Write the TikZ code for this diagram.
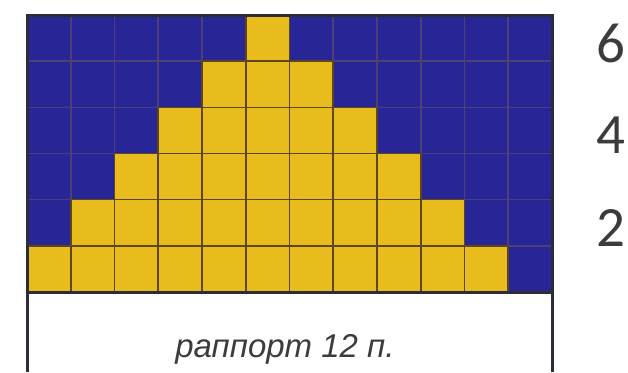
\documentclass[tikz,border=0pt]{standalone}
\usepackage{fontspec}
\setmainfont{Liberation Sans}
\newfontfamily\numfont{Carlito}
\definecolor{gblue}{RGB}{40,38,150}
\definecolor{gyellow}{RGB}{232,188,28}
\definecolor{gline}{RGB}{78,64,118}
\definecolor{yline}{RGB}{92,70,30}
\definecolor{gframe}{RGB}{45,45,55}
\definecolor{txt}{RGB}{60,60,60}
\tikzset{
  gridline/.style={gline, line width=1.6pt},
  ycell/.style={fill=gyellow, draw=yline, line width=1.6pt},
  frameline/.style={gframe, line width=3pt},
  rowlabel/.style={font=\numfont\fontsize{57}{57}\selectfont, text=txt, anchor=base, inner sep=0pt},
  caption/.style={font=\itshape\fontsize{33}{33}\selectfont, text=txt, anchor=base, inner sep=0pt}
}
\begin{document}
\begin{tikzpicture}[x=1pt,y=-1pt]
\useasboundingbox (0,0) rectangle (628,372);
\fill[white] (0,0) rectangle (628,372);
\fill[gblue] (27,15) rectangle (552,292);
\foreach \i in {1,...,11} \draw[gridline] ({27+\i*43.75},15) -- ({27+\i*43.75},292);
\foreach \j in {1,...,5} \draw[gridline] (27,{15+\j*46.1667}) -- (552,{15+\j*46.1667});
\foreach \r in {1,...,6} {
  \pgfmathtruncatemacro\last{12-\r}
  \foreach \c in {\r,...,\last}
    \filldraw[ycell] ({27+(\c-1)*43.75},{292-\r*46.1667}) rectangle ++(43.75,46.1667);
}
\draw[frameline] (27,372) -- (27,15) -- (552,15) -- (552,372);
\draw[frameline] (27,292) -- (552,292);
\node[rowlabel] (n6) at (611,62) {6};
\node[rowlabel] (n4) at (611,153) {4};
\node[rowlabel] (n2) at (611,246) {2};
\node[caption] (rapport) at (285,357) {раппорт 12 п.};
\end{tikzpicture}
\end{document}
